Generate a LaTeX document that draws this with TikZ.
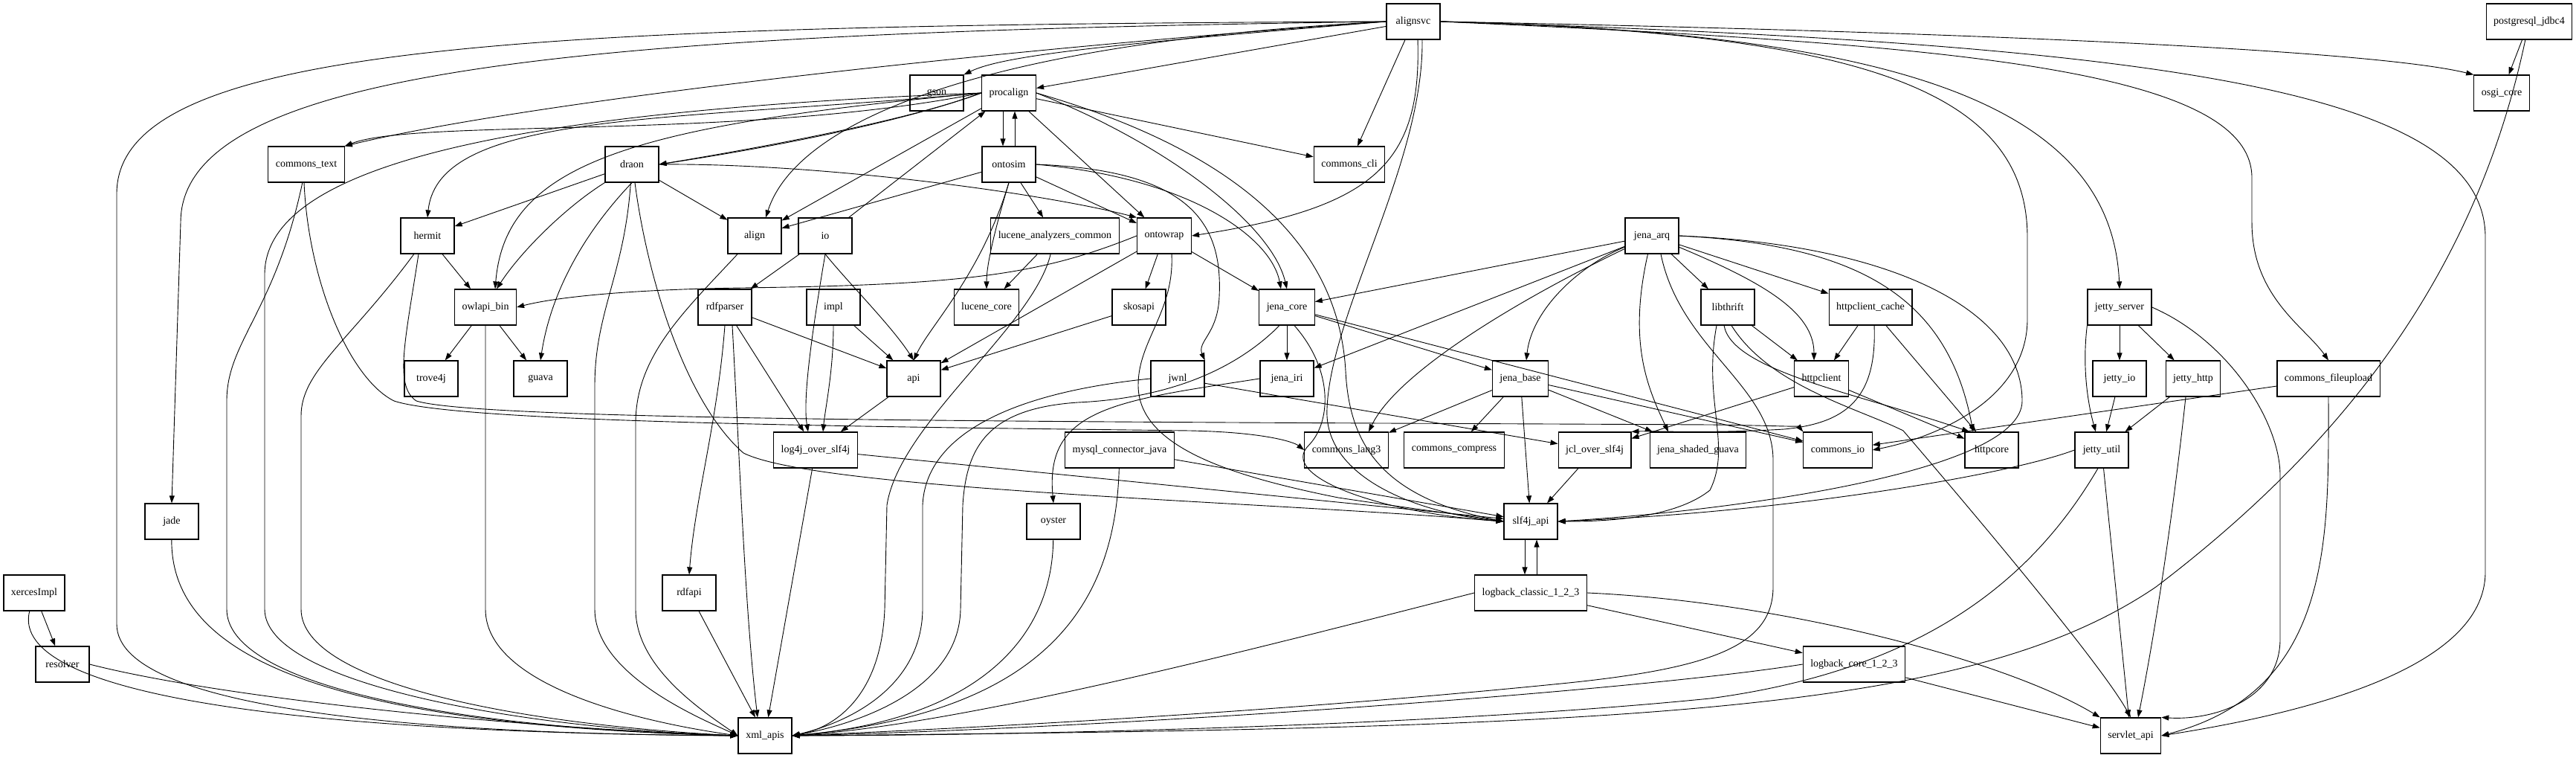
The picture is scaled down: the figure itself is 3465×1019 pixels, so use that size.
\documentclass[tikz,border=0pt]{standalone}
\usepackage{fontspec}
\setmainfont{Liberation Serif}
\usetikzlibrary{arrows.meta}

\begin{document}
\begin{tikzpicture}[
    x=1pt, y=1pt,
    pkg/.style={draw=black, line width=1.2pt, minimum width=72pt, minimum height=48pt,
                inner xsep=10pt, font=\fontsize{14}{16}\selectfont},
    dep/.style={-{Triangle[length=10pt,width=7pt]}, line width=0.9pt}
]
    \useasboundingbox (0,0) rectangle (3465,1019);

    % --- row 1 ---
    \node[pkg] (alignsvc) at (1901,990) {alignsvc};
    \node[pkg] (postgresql_jdbc4) at (3402,990) {postgresql\_jdbc4};

    % --- row 2 ---
    \node[pkg] (gson) at (1260,894) {gson};
    \node[pkg] (procalign) at (1357,894) {procalign};
    \node[pkg] (osgi_core) at (3365,894) {osgi\_core};

    % --- row 3 ---
    \node[pkg] (commons_text) at (412,798) {commons\_text};
    \node[pkg] (draon) at (850,798) {draon};
    \node[pkg] (ontosim) at (1357,798) {ontosim};
    \node[pkg] (commons_cli) at (1815,798) {commons\_cli};

    % --- row 4 ---
    \node[pkg] (hermit) at (575,702) {hermit};
    \node[pkg] (align) at (1015,702) {align};
    \node[pkg] (io) at (1110,702) {io};
    \node[pkg] (lucene_analyzers_common) at (1419,702) {lucene\_analyzers\_common};
    \node[pkg] (ontowrap) at (1566,702) {ontowrap};
    \node[pkg] (jena_arq) at (2222,702) {jena\_arq};

    % --- row 5 ---
    \node[pkg] (owlapi_bin) at (653,606) {owlapi\_bin};
    \node[pkg] (rdfparser) at (975,606) {rdfparser};
    \node[pkg] (impl) at (1121,606) {impl};
    \node[pkg] (lucene_core) at (1327,606) {lucene\_core};
    \node[pkg] (skosapi) at (1532,606) {skosapi};
    \node[pkg] (jena_core) at (1731,606) {jena\_core};
    \node[pkg] (libthrift) at (2324,606) {libthrift};
    \node[pkg] (httpclient_cache) at (2516,606) {httpclient\_cache};
    \node[pkg] (jetty_server) at (2851,606) {jetty\_server};

    % --- row 6 ---
    \node[pkg] (trove4j) at (580,510) {trove4j};
    \node[pkg] (guava) at (727,510) {guava};
    \node[pkg] (api) at (1229,510) {api};
    \node[pkg] (jwnl) at (1584,510) {jwnl};
    \node[pkg] (jena_iri) at (1731,510) {jena\_iri};
    \node[pkg] (jena_base) at (2045,510) {jena\_base};
    \node[pkg] (httpclient) at (2450,510) {httpclient};
    \node[pkg] (jetty_io) at (2851,510) {jetty\_io};
    \node[pkg] (jetty_http) at (2950,510) {jetty\_http};
    \node[pkg] (commons_fileupload) at (3132,510) {commons\_fileupload};

    % --- row 7 ---
    \node[pkg] (log4j_over_slf4j) at (1097,414) {log4j\_over\_slf4j};
    \node[pkg] (mysql_connector_java) at (1506,414) {mysql\_connector\_java};
    \node[pkg] (commons_lang3) at (1811,414) {commons\_lang3};
    \node[pkg] (commons_compress) at (1956,414) {commons\_compress};
    \node[pkg] (jcl_over_slf4j) at (2145,414) {jcl\_over\_slf4j};
    \node[pkg] (jena_shaded_guava) at (2284,414) {jena\_shaded\_guava};
    \node[pkg] (commons_io) at (2472,414) {commons\_io};
    \node[pkg] (httpcore) at (2679,414) {httpcore};
    \node[pkg] (jetty_util) at (2827,414) {jetty\_util};

    % --- rows 8 to 11 ---
    \node[pkg] (jade) at (231,318) {jade};
    \node[pkg] (oyster) at (1417,318) {oyster};
    \node[pkg] (slf4j_api) at (2059,318) {slf4j\_api};
    \node[pkg] (xercesImpl) at (46,222) {xercesImpl};
    \node[pkg] (rdfapi) at (927,222) {rdfapi};
    \node[pkg] (logback_classic) at (2059,222) {logback\_classic\_1\_2\_3};
    \node[pkg] (resolver) at (84,126) {resolver};
    \node[pkg] (logback_core) at (2494,126) {logback\_core\_1\_2\_3};
    \node[pkg] (xml_apis) at (1029,30) {xml\_apis};
    \node[pkg] (servlet_api) at (2866,30) {servlet\_api};

    % --- alignsvc ---
    \draw[dep] (alignsvc) -- (procalign);
    \draw[dep] (alignsvc.west) .. controls (1500,960) and (1350,945) .. (gson.north east);
    \draw[dep] (alignsvc.west) .. controls (1300,950) and (700,880) .. (commons_text.north east);
    \draw[dep] (alignsvc.west) .. controls (700,985) and (160,960) .. (157,760) -- (157,180) .. controls (157,60) and (600,32) .. (xml_apis.west);
    \draw[dep] (alignsvc.west) .. controls (800,975) and (243,930) .. (243,720) -- (jade.north);
    \draw[dep] (alignsvc.west) .. controls (1300,960) and (1070,850) .. ([xshift=15pt]align.north);
    \draw[dep] (alignsvc) -- (commons_cli);
    \draw[dep] ([xshift=6pt]alignsvc.south) .. controls (1912,800) and (1850,740) .. (ontowrap.east);
    \draw[dep] ([xshift=12pt]alignsvc.south) .. controls (1915,800) and (1790,600) .. (1785,470) .. controls (1780,380) and (1900,330) .. (slf4j_api.west);
    \draw[dep] (alignsvc.east) .. controls (2700,975) and (3200,950) .. (osgi_core.north west);
    \draw[dep] (alignsvc.east) .. controls (2500,975) and (2727,900) .. (2727,700) -- (2727,590) .. controls (2727,480) and (2600,430) .. (commons_io.east);
    \draw[dep] (alignsvc.east) .. controls (2550,975) and (2840,880) .. (jetty_server.north);
    \draw[dep] (alignsvc.east) .. controls (2600,960) and (3029,930) .. (3029,780) -- (3029,720) .. controls (3029,620) and (3100,580) .. (commons_fileupload.north);
    \draw[dep] (alignsvc.east) .. controls (2900,960) and (3343,900) .. (3343,700) -- (3343,250) .. controls (3343,120) and (3100,60) .. (servlet_api.east);

    % --- postgresql_jdbc4 ---
    \draw[dep] (postgresql_jdbc4) -- (osgi_core);
    \draw[dep] (postgresql_jdbc4) .. controls (3330,650) and (3150,420) .. (2900,230) .. controls (2650,60) and (2200,40) .. (xml_apis.east);

    % --- procalign ---
    \draw[dep] ([xshift=-8pt]procalign.south) -- ([xshift=-8pt]ontosim.north);
    \draw[dep] (procalign.west) .. controls (1200,850) and (1000,815) .. (draon.east);
    \draw[dep] (procalign.west) .. controls (1230,860) and (1050,825) .. (draon.east);
    \draw[dep] (procalign.west) .. controls (1000,830) and (560,860) .. (commons_text.north east);
    \draw[dep] (procalign.west) .. controls (900,855) and (590,870) .. (hermit.north);
    \draw[dep] (procalign.west) .. controls (850,850) and (680,800) .. ([xshift=13pt]owlapi_bin.north);
    \draw[dep] (procalign.west) .. controls (700,870) and (356,800) .. (356,650) -- (356,200) .. controls (356,100) and (700,40) .. (xml_apis.west);
    \draw[dep] (procalign) -- (align);
    \draw[dep] (procalign) -- (ontowrap);
    \draw[dep] (procalign.east) .. controls (1560,830) and (1710,720) .. (jena_core.north);
    \draw[dep] (procalign) -- (commons_cli);
    \draw[dep] (procalign.east) .. controls (1650,820) and (1800,700) .. (1810,520) .. controls (1815,420) and (1860,350) .. (slf4j_api.west);

    % --- ontosim ---
    \draw[dep] ([xshift=8pt]ontosim.north) -- ([xshift=8pt]procalign.south);
    \draw[dep] (ontosim) -- (align);
    \draw[dep] (ontosim.south) .. controls (1320,650) and (1250,580) .. (api.north);
    \draw[dep] (ontosim.south) .. controls (1335,700) and (1327,660) .. (lucene_core.north);
    \draw[dep] (ontosim) -- (lucene_analyzers_common);
    \draw[dep] (ontosim) -- (ontowrap);
    \draw[dep] (ontosim.east) .. controls (1600,780) and (1710,700) .. ([xshift=-8pt]jena_core.north);
    \draw[dep] (ontosim.east) .. controls (1600,790) and (1645,720) .. (1640,620) .. controls (1638,570) and (1610,560) .. (jwnl.north east);

    % --- draon ---
    \draw[dep] (draon) -- (hermit);
    \draw[dep] (draon.south west) .. controls (760,740) and (700,680) .. ([xshift=15pt]owlapi_bin.north);
    \draw[dep] (draon.south) .. controls (780,700) and (740,620) .. (guava.north);
    \draw[dep] (draon) .. controls (840,650) and (800,600) .. (800,500) -- (800,200) .. controls (800,110) and (950,50) .. (xml_apis.west);
    \draw[dep] ([xshift=4pt]draon.south) .. controls (870,650) and (920,480) .. (1000,410) .. controls (1100,360) and (1700,345) .. (slf4j_api.west);
    \draw[dep] (draon) -- (align);
    \draw[dep] (draon.east) .. controls (1100,800) and (1400,760) .. (ontowrap.north west);

    % --- io ---
    \draw[dep] (io) -- (procalign);
    \draw[dep] (io) -- (rdfparser);
    \draw[dep] (io.south) .. controls (1090,560) and (1080,480) .. ([xshift=-10pt]log4j_over_slf4j.north);
    \draw[dep] (io.south) .. controls (1140,640) and (1200,580) .. (api.north);

    % --- commons_text, hermit, owlapi_bin, align ---
    \draw[dep] (commons_text) .. controls (370,600) and (305,560) .. (305,480) -- (305,200) .. controls (305,100) and (600,40) .. (xml_apis.west);
    \draw[dep] ([xshift=-3pt]commons_text.south) .. controls (415,640) and (470,510) .. (530,480) .. controls (620,450) and (1200,445) .. (1600,440) .. controls (1700,438) and (1740,425) .. (commons_lang3.west);
    \draw[dep] (hermit) -- (owlapi_bin);
    \draw[dep] (hermit) .. controls (470,560) and (405,520) .. (405,460) -- (405,200) .. controls (405,100) and (700,45) .. (xml_apis.west);
    \draw[dep] ([xshift=-12pt]hermit.south) .. controls (545,560) and (530,500) .. (560,480) .. controls (650,452) and (1500,452) .. (2300,448) .. controls (2380,447) and (2420,445) .. (commons_io.north west);
    \draw[dep] (owlapi_bin) -- (trove4j);
    \draw[dep] (owlapi_bin) -- (guava);
    \draw[dep] (owlapi_bin) -- (653,200) .. controls (653,100) and (850,50) .. (xml_apis.west);
    \draw[dep] (align) .. controls (920,600) and (855,540) .. (855,450) -- (855,200) .. controls (855,120) and (950,60) .. (xml_apis.west);

    % --- lucene, ontowrap, skosapi ---
    \draw[dep] (lucene_analyzers_common) -- (lucene_core);
    \draw[dep] (lucene_analyzers_common) .. controls (1390,580) and (1210,450) .. (1193,340) -- (1190,200) .. controls (1185,80) and (1120,40) .. (xml_apis.east);
    \draw[dep] (ontowrap.west) .. controls (1400,650) and (1300,636) .. (1000,632) .. controls (850,630) and (750,620) .. (owlapi_bin.east);
    \draw[dep] (ontowrap) -- (api);
    \draw[dep] (ontowrap) -- (skosapi);
    \draw[dep] (ontowrap) -- (jena_core);
    \draw[dep] ([xshift=10pt]ontowrap.south) .. controls (1580,600) and (1530,560) .. (1531,500) .. controls (1532,420) and (1650,380) .. (1800,350) .. controls (1900,335) and (1980,325) .. (slf4j_api.west);
    \draw[dep] (skosapi) -- (api);

    % --- rdfparser, impl, api, log4j ---
    \draw[dep] (rdfparser) -- (api);
    \draw[dep] (rdfparser) -- (log4j_over_slf4j);
    \draw[dep] (rdfparser.south) .. controls (965,450) and (935,350) .. (rdfapi.north);
    \draw[dep] ([xshift=10pt]rdfparser.south) .. controls (995,400) and (1002,200) .. ([xshift=-10pt]xml_apis.north);
    \draw[dep] (impl) -- (api);
    \draw[dep] (impl.south) .. controls (1121,520) and (1110,470) .. ([xshift=10pt]log4j_over_slf4j.north);
    \draw[dep] (api) -- (log4j_over_slf4j);
    \draw[dep] (log4j_over_slf4j) -- (slf4j_api);
    \draw[dep] (log4j_over_slf4j) -- (xml_apis);
    \draw[dep] (rdfapi) -- (xml_apis);

    % --- jwnl, jena_core, jena_iri, oyster, mysql ---
    \draw[dep] (jwnl) -- (jcl_over_slf4j);
    \draw[dep] (jwnl.west) .. controls (1350,490) and (1245,430) .. (1241,340) -- (1241,200) .. controls (1240,100) and (1150,50) .. (xml_apis.east);
    \draw[dep] (jena_core) -- (jena_iri);
    \draw[dep] (jena_core) -- (jena_base);
    \draw[dep] (jena_core) -- (commons_io);
    \draw[dep] ([xshift=-10pt]jena_core.south) .. controls (1680,540) and (1600,485) .. (1450,478) .. controls (1330,470) and (1300,420) .. (1295,340) -- (1292,200) .. controls (1290,90) and (1150,45) .. (xml_apis.east);
    \draw[dep] ([xshift=10pt]jena_core.south) .. controls (1795,520) and (1790,450) .. (1760,420) .. controls (1720,380) and (1850,330) .. (slf4j_api.west);
    \draw[dep] (jena_iri.west) .. controls (1500,480) and (1405,470) .. (oyster.north);
    \draw[dep] (oyster) .. controls (1415,150) and (1300,50) .. (xml_apis.east);
    \draw[dep] (mysql_connector_java) -- (slf4j_api);
    \draw[dep] (mysql_connector_java) .. controls (1500,200) and (1400,60) .. (xml_apis.east);

    % --- jena_base ---
    \draw[dep] (jena_base) -- (commons_lang3);
    \draw[dep] (jena_base) -- (commons_compress);
    \draw[dep] (jena_base) -- (slf4j_api);
    \draw[dep] (jena_base) -- (jena_shaded_guava);
    \draw[dep] (jena_base) -- (commons_io);

    % --- jena_arq ---
    \draw[dep] (jena_arq) -- (jena_core);
    \draw[dep] (jena_arq) -- (jena_iri);
    \draw[dep] (jena_arq) .. controls (2050,620) and (1880,520) .. ([xshift=30pt]commons_lang3.north);
    \draw[dep] (jena_arq) .. controls (2120,660) and (2060,600) .. ([xshift=8pt]jena_base.north);
    \draw[dep] (jena_arq) .. controls (2190,560) and (2215,500) .. ([xshift=-40pt]jena_shaded_guava.north);
    \draw[dep] ([xshift=12pt]jena_arq.south) .. controls (2260,550) and (2385,500) .. (2385,400) -- (2385,230) .. controls (2385,150) and (2300,120) .. (2100,100) .. controls (1700,60) and (1300,40) .. (xml_apis.east);
    \draw[dep] (jena_arq) -- (libthrift);
    \draw[dep] (jena_arq) .. controls (2370,640) and (2440,600) .. ([xshift=-10pt]httpclient.north);
    \draw[dep] (jena_arq) -- (httpclient_cache);
    \draw[dep] (jena_arq.east) .. controls (2500,690) and (2620,620) .. ([xshift=-25pt]httpcore.north);
    \draw[dep] (jena_arq.east) .. controls (2550,690) and (2720,600) .. (2720,480) .. controls (2720,380) and (2300,330) .. (slf4j_api.east);

    % --- libthrift, http ---
    \draw[dep] (libthrift) -- (httpclient);
    \draw[dep] ([xshift=-5pt]libthrift.south) .. controls (2330,520) and (2500,490) .. ([xshift=-30pt]httpcore.north);
    \draw[dep] ([xshift=5pt]libthrift.south) .. controls (2380,500) and (2500,470) .. (2560,440) .. controls (2680,300) and (2830,120) .. (servlet_api.north);
    \draw[dep] ([xshift=-15pt]libthrift.south) .. controls (2290,480) and (2330,420) .. (2300,360) .. controls (2250,320) and (2150,318) .. (slf4j_api.east);
    \draw[dep] (httpclient_cache) -- (httpclient);
    \draw[dep] (httpclient_cache) -- (httpcore);
    \draw[dep] ([xshift=5pt]httpclient_cache.south) .. controls (2525,480) and (2480,450) .. (2400,442) .. controls (2300,436) and (2220,440) .. (jcl_over_slf4j.north east);
    \draw[dep] (httpclient) -- (httpcore);
    \draw[dep] (httpclient) -- (jcl_over_slf4j);
    \draw[dep] (jcl_over_slf4j) -- (slf4j_api);

    % --- jetty ---
    \draw[dep] (jetty_server) -- (jetty_io);
    \draw[dep] (jetty_server) -- (jetty_http);
    \draw[dep] (jetty_server.south west) .. controls (2800,520) and (2810,470) .. ([xshift=-8pt]jetty_util.north);
    \draw[dep] (jetty_server.east) .. controls (3000,560) and (3067,450) .. (3067,380) -- (3067,160) .. controls (3067,80) and (2980,50) .. (servlet_api.north east);
    \draw[dep] (jetty_io) -- (jetty_util);
    \draw[dep] (jetty_http) -- (jetty_util);
    \draw[dep] ([xshift=-10pt]jetty_http.south) .. controls (2920,300) and (2895,150) .. ([xshift=10pt]servlet_api.north);
    \draw[dep] (jetty_util.west) .. controls (2700,380) and (2400,330) .. (slf4j_api.east);
    \draw[dep] (jetty_util) -- (servlet_api);
    \draw[dep] ([xshift=-5pt]jetty_util.south) .. controls (2740,250) and (2600,120) .. (2300,80) .. controls (1900,40) and (1300,30) .. (xml_apis.east);
    \draw[dep] (commons_fileupload) -- (commons_io);
    \draw[dep] (commons_fileupload) .. controls (3132,300) and (3140,90) .. (servlet_api.east);

    % --- logging ---
    \draw[dep] ([xshift=-8pt]slf4j_api.south) -- ([xshift=-8pt]logback_classic.north);
    \draw[dep] ([xshift=8pt]logback_classic.north) -- ([xshift=8pt]slf4j_api.south);
    \draw[dep] (logback_classic) -- (logback_core);
    \draw[dep] (logback_classic.west) .. controls (1700,150) and (1300,45) .. (xml_apis.east);
    \draw[dep] (logback_classic.east) .. controls (2400,210) and (2700,130) .. (servlet_api.north west);
    \draw[dep] (logback_core.west) .. controls (2200,90) and (1500,40) .. (xml_apis.east);
    \draw[dep] (logback_core) -- (servlet_api);

    % --- xerces ---
    \draw[dep] (xercesImpl) -- (resolver);
    \draw[dep] (xercesImpl) .. controls (15,100) and (300,35) .. (xml_apis.west);
    \draw[dep] (resolver.east) .. controls (300,80) and (700,40) .. (xml_apis.west);
    \draw[dep] (jade) .. controls (230,150) and (400,45) .. (xml_apis.west);

\end{tikzpicture}
\end{document}
